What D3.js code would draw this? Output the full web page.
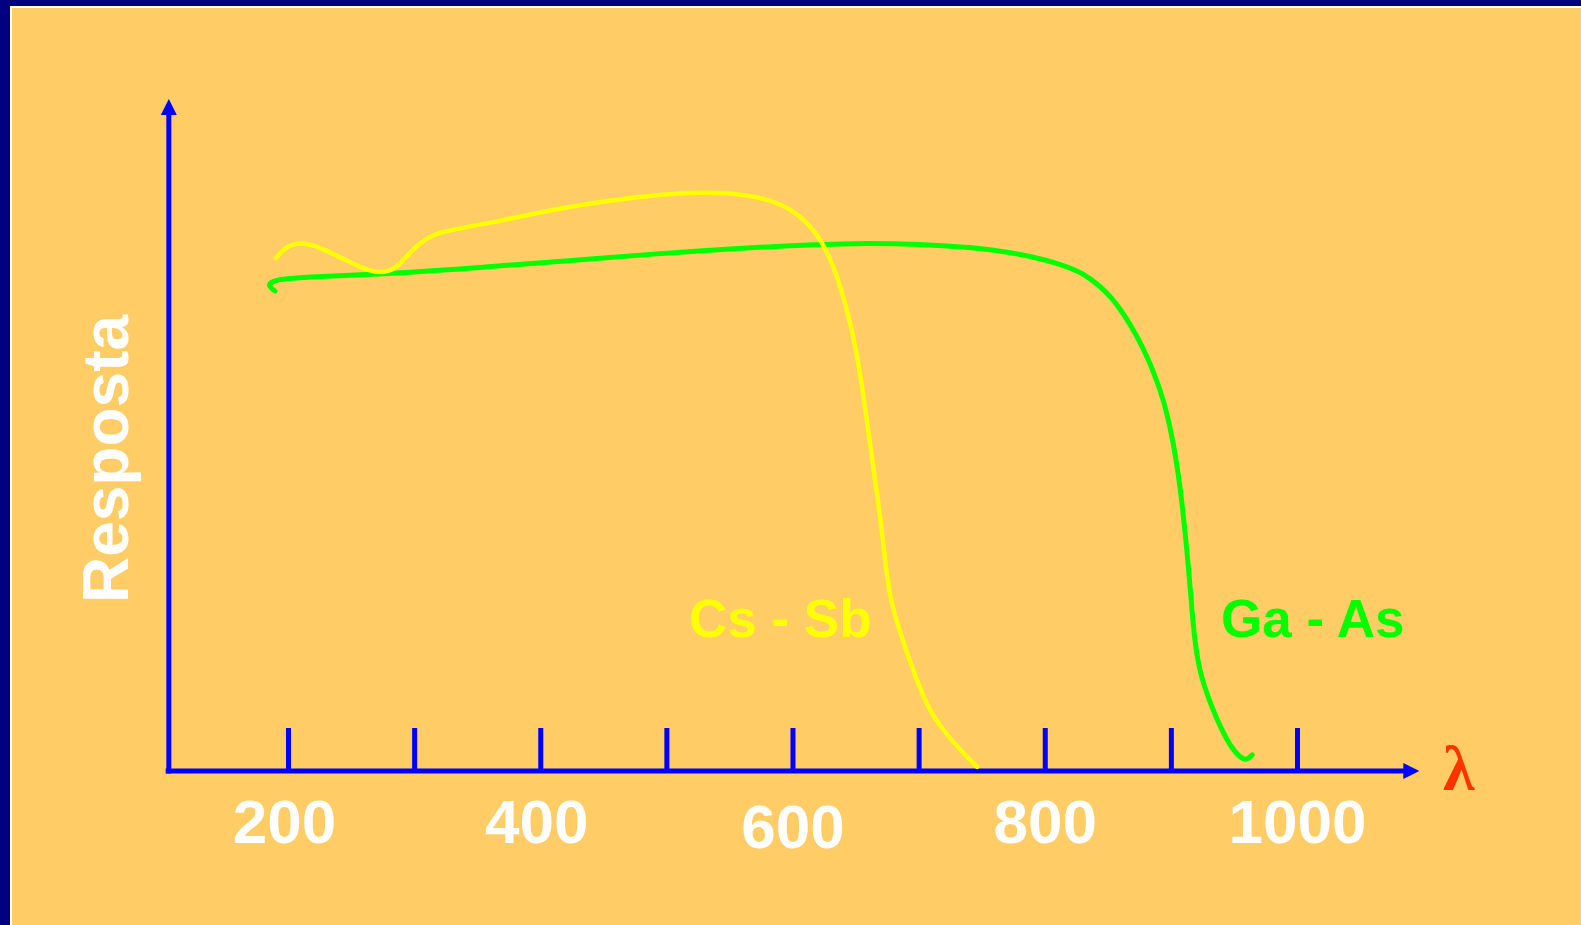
<!DOCTYPE html>
<html>
<head>
<meta charset="utf-8">
<script src="https://cdn.jsdelivr.net/npm/d3@7"></script>
<style>
  html, body { margin: 0; padding: 0; background: #FFCC66; overflow: hidden; }
  svg { display: block; }
</style>
</head>
<body>
<svg id="chart" width="1581" height="925"></svg>
<script>
// ---- data ----
const tickValues = [200, 300, 400, 500, 600, 700, 800, 900, 1000];
const tickLabels = ["200", "400", "600", "800", "1000"];
const labelValues = [200, 400, 600, 800, 1000];

// Cs - Sb photocathode response (wavelength nm, relative response)
const csSbWavelength = [190.5, 197.6, 209.5, 225.4, 245.2, 263.4, 276.9, 287.2, 296.7, 308.6, 320.5, 342.0, 371.3, 407.8, 451.4, 491.0, 526.7, 562.4, 590.2, 606.0, 617.9, 628.2, 636.2, 644.1, 650.4, 655.2, 659.9, 665.5, 671.0, 675.0, 679.8, 685.3, 693.3, 706.7, 717.1, 727.4, 736.9, 746.4];
const csSbResponse   = [85.5, 87.3, 88.2, 87.3, 85.2, 83.3, 83.0, 84.0, 86.5, 88.7, 89.8, 90.7, 91.8, 93.5, 95.0, 96.0, 96.5, 96.2, 94.7, 92.5, 90.0, 86.3, 82.0, 76.3, 70.2, 64.3, 56.8, 48.5, 40.2, 31.8, 26.8, 23.2, 18.0, 10.7, 7.5, 4.8, 2.7, 0.7];

// Ga - As photocathode response
const gaAsWavelength = [189.7, 184.1, 187.3, 197.6, 209.5, 275.3, 344.3, 407.8, 526.7, 621.9, 659.2, 701.2, 738.5, 764.6, 790.8, 812.2, 830.5, 843.9, 853.4, 862.2, 873.3, 883.6, 891.5, 897.1, 905.0, 909.8, 913.7, 916.9, 919.3, 923.2, 929.6, 936.7, 943.1, 949.4, 955.0, 958.9, 962.1, 964.5];
const gaAsResponse   = [80.0, 80.8, 81.7, 82.0, 82.3, 82.8, 83.8, 84.8, 86.8, 87.8, 88.0, 87.8, 87.3, 86.7, 85.7, 84.5, 83.0, 80.8, 78.8, 76.3, 72.5, 68.0, 63.5, 59.7, 51.3, 43.0, 34.7, 26.3, 21.0, 16.3, 12.2, 8.5, 5.7, 3.5, 2.3, 1.8, 2.2, 2.7];

const seriesNames = ["Cs - Sb", "Ga - As"];

// ---- drawing ----
const svg = d3.select("#chart");
const W = 1581, H = 925;

// background + frame
svg.append("rect").attr("width", W).attr("height", H).attr("fill", "#FFCC66");
svg.append("rect").attr("x", 0).attr("y", 0).attr("width", W).attr("height", 6).attr("fill", "#000080");
svg.append("rect").attr("x", 0).attr("y", 0).attr("width", 10).attr("height", H).attr("fill", "#000080");
svg.append("rect").attr("x", 10).attr("y", 6).attr("width", W - 10).attr("height", 2).attr("fill", "#FFFFFF");
svg.append("rect").attr("x", 10).attr("y", 6).attr("width", 2).attr("height", H - 6).attr("fill", "#FFFFFF");

const x = d3.scaleLinear().domain([200, 1000]).range([288, 1297]);
const y = d3.scaleLinear().domain([0, 100]).range([771, 171]);

const blue = "#0000FF";
const y0 = y(0);
const xAxisLeft = x(103), xAxisTip = x(1097);
const yAxisX = x(105.5), yAxisTip = y(112);

// tick marks via d3 axis
const tickAxis = d3.axisTop(x).tickValues(tickValues).tickSize(43).tickFormat("");
const gt = svg.append("g").attr("transform", `translate(0,${y0})`).call(tickAxis);
gt.select(".domain").remove();
gt.selectAll(".tick line").attr("stroke", blue).attr("stroke-width", 5);

// x axis line + arrow
svg.append("line").attr("x1", xAxisLeft).attr("x2", xAxisTip - 12).attr("y1", y0).attr("y2", y0)
  .attr("stroke", blue).attr("stroke-width", 5);
svg.append("path")
  .attr("d", `M${xAxisTip},${y0} L${xAxisTip - 16},${y0 - 8} L${xAxisTip - 16},${y0 + 8} Z`)
  .attr("fill", blue);

// y axis line + arrow
svg.append("line").attr("x1", yAxisX).attr("x2", yAxisX).attr("y1", y0 + 2.5).attr("y2", yAxisTip + 12)
  .attr("stroke", blue).attr("stroke-width", 5);
svg.append("path")
  .attr("d", `M${yAxisX},${yAxisTip} L${yAxisX - 8},${yAxisTip + 16} L${yAxisX + 8},${yAxisTip + 16} Z`)
  .attr("fill", blue);

// tick labels via d3 axis
const labelAxis = d3.axisBottom(x).tickValues(labelValues).tickSize(0)
  .tickFormat((d, i) => tickLabels[i]);
const gl = svg.append("g").attr("transform", `translate(0,${y0})`).call(labelAxis);
gl.select(".domain").remove();
gl.selectAll(".tick text")
  .attr("fill", "#FFFFFF")
  .attr("font-family", "'Liberation Sans', Arial, sans-serif")
  .attr("font-weight", "bold")
  .attr("font-size", 62)
  .attr("dy", 0)
  .attr("y", d => (d === 600 ? 77 : 72))
  .attr("dx", d => (d === 200 ? -4 : d === 400 ? -4 : 0));

// curves
const line = d3.line().x(d => x(d[0])).y(d => y(d[1])).curve(d3.curveBasis);
const csSb = csSbWavelength.map((w, i) => [w, csSbResponse[i]]);
const gaAs = gaAsWavelength.map((w, i) => [w, gaAsResponse[i]]);

svg.append("path").datum(gaAs).attr("d", line)
  .attr("fill", "none").attr("stroke", "#00FF00").attr("stroke-width", 5)
  .attr("stroke-linecap", "round").attr("stroke-linejoin", "round");
svg.append("path").datum(csSb).attr("d", line)
  .attr("fill", "none").attr("stroke", "#FFFF00").attr("stroke-width", 4.5)
  .attr("stroke-linecap", "round").attr("stroke-linejoin", "round");

// series labels
svg.append("text").text(seriesNames[0])
  .attr("x", 689).attr("y", 637)
  .attr("fill", "#FFFF00").attr("font-family", "'Liberation Sans', Arial, sans-serif")
  .attr("font-weight", "bold").attr("font-size", 53);
svg.append("text").text(seriesNames[1])
  .attr("x", 1221).attr("y", 637)
  .attr("fill", "#00FF00").attr("font-family", "'Liberation Sans', Arial, sans-serif")
  .attr("font-weight", "bold").attr("font-size", 53);

// axis titles
svg.append("text").text("Resposta")
  .attr("transform", "translate(128,459) rotate(-90)")
  .attr("text-anchor", "middle")
  .attr("fill", "#FFFFFF").attr("font-family", "'Liberation Sans', Arial, sans-serif")
  .attr("font-weight", "bold").attr("font-size", 64);
svg.append("text").text("λ")
  .attr("x", 1443).attr("y", 790)
  .attr("fill", "#FF3300").attr("font-family", "'Liberation Serif', 'Times New Roman', serif")
  .attr("font-weight", "bold").attr("font-size", 64);
</script>
</body>
</html>
